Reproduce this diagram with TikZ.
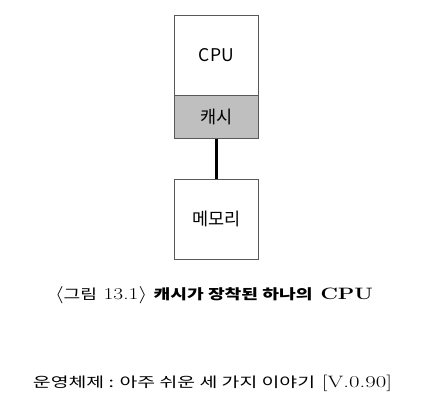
\documentclass[tikz,border=0pt]{standalone}
\usepackage{fontspec}
\usepackage{graphicx}
\newfontfamily\kr{Noto Sans CJK KR}
\newcommand\krtext[1]{{\kr\fontsize{14}{18}\selectfont #1}}
\begin{document}
\begin{tikzpicture}[x=1pt,y=-1pt,
  boxstyle/.style={draw=black!65, line width=0.8pt, minimum width=84pt, inner sep=0pt, font=\kr\fontsize{17.5}{20}\selectfont},
]
\useasboundingbox (0,0) rectangle (431,413);
\node[boxstyle, minimum height=80pt, anchor=north west] (cpu) at (174,15) {CPU};
\node[boxstyle, minimum height=43pt, fill=black!25, anchor=north west] (cache) at (174,95) {캐시};
\node[boxstyle, minimum height=80pt, anchor=north west] (mem) at (174,178.5) {메모리};
\draw[line width=2.2pt] (cache.south) -- (mem.north);
\node[inner sep=0pt] (cap) at (214,295) {\resizebox{318pt}{\height}{\fontsize{16.5}{18}\selectfont $\langle$\krtext{그림} 13.1$\rangle$ \textbf{\krtext{\bfseries 캐시가 장착된 하나의} CPU}}};
\node[inner sep=0pt] (foot) at (212.5,383) {\resizebox{359pt}{\height}{\fontsize{16.5}{18}\selectfont \krtext{운영체제 : 아주 쉬운 세 가지 이야기} [V.0.90]}};
\end{tikzpicture}
\end{document}
